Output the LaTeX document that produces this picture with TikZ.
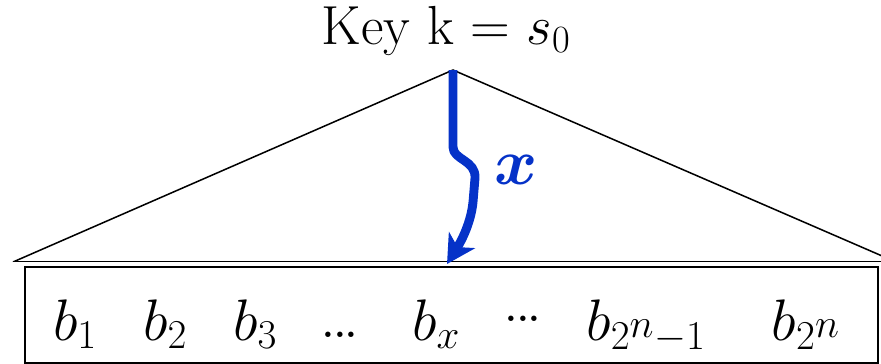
\documentclass[tikz,border=0pt]{standalone}
\usepackage{fix-cm}
\usepackage{amsmath,bm}
\usetikzlibrary{arrows.meta}
\definecolor{arrowblue}{RGB}{5,50,200}
\begin{document}
\begin{tikzpicture}[x=0.03cm,y=-0.03cm,
  thin line/.style={line width=1.3pt,black},
  walk/.style={line width=7.6pt,arrowblue,line join=round,
    -{Stealth[length=24pt 0 0,width=26pt 0 0,inset=7pt 0]}},
  bval/.style={anchor=base,inner sep=0pt,font=\fontsize{50}{60}\selectfont},
  dotsval/.style={anchor=base,inner sep=0pt,font=\fontsize{32}{40}\selectfont\bfseries}]
\useasboundingbox (0,0) rectangle (881,363);
\clip (0,0) rectangle (881,363);
\coordinate (apex) at (453,70);
\coordinate (left) at (13,262);
\coordinate (right) at (896,262);
\coordinate (tip) at (447,264);
\node[anchor=base,inner sep=0pt,font=\fontsize{47}{56}\selectfont] (key) at (446,44) {Key k = $s_0$};
\draw[thin line] (left) -- (apex) -- (right);
\draw[thin line,double distance=0.6pt,line width=0.8pt] (left) -- (right);
\node[draw,thin line,minimum width=853*0.03cm,minimum height=96*0.03cm,inner sep=0pt,anchor=north west] (box) at (24,266) {};
\draw[walk] (apex) -- (453,147) .. controls (453,160) and (476,160) .. (475,178)
  -- (473,202) .. controls (471,222) and (462,240) .. (tip);
\node[arrowblue,font=\fontsize{56}{64}\selectfont] (xl) at (516,170) {$\bm{x}$};
\node[bval] (b1) at (75,340) {$b_1$};
\node[bval] (b2) at (165,340) {$b_2$};
\node[bval] (b3) at (255,340) {$b_3$};
\node[dotsval] (d1) at (340,337) {...};
\node[bval] (bx) at (436,340) {$b_x$};
\node[dotsval] (d2) at (523,321) {...};
\node[bval] (bm) at (646,340) {$b_{2^{\scriptstyle n}-1}$};
\node[bval] (bn) at (806,340) {$b_{2^{\scriptstyle n}}$};
\end{tikzpicture}
\end{document}
